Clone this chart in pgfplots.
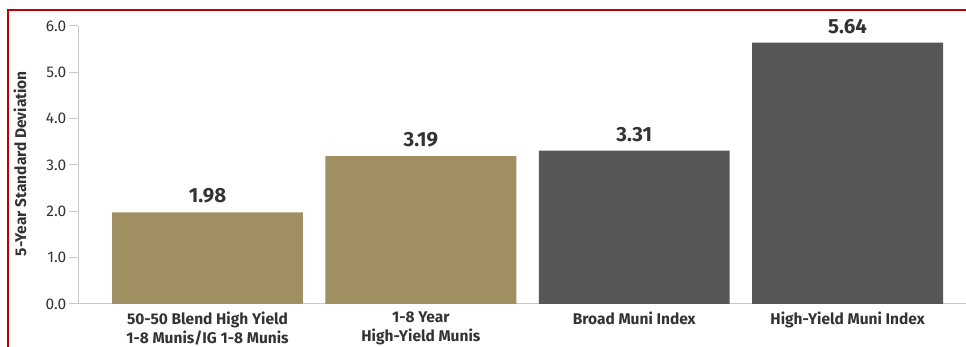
\documentclass[border=0pt]{standalone}
\usepackage{pgfplots}
\pgfplotsset{compat=1.18}
\usepackage{fontspec}
\setmainfont{Fira Sans}
\definecolor{gold}{HTML}{A08F60}
\definecolor{dgray}{HTML}{575757}
\definecolor{txt}{HTML}{333333}
\definecolor{axisgray}{HTML}{C8C8C8}
\definecolor{frame}{HTML}{C00000}
\begin{document}
\begin{tikzpicture}[x=1pt,y=1pt]
\path[use as bounding box] (0,0) rectangle (966,347);
\draw[frame, line width=2pt] (8,0) -- (8,336.5) -- (966,336.5);
\begin{axis}[
  at={(78pt,43pt)}, anchor=south west,
  scale only axis, width=888pt, height=278pt,
  xmin=-0.607, xmax=3.555, ymin=0, ymax=6,
  axis lines*=left,
  axis line style={axisgray, line width=1pt},
  ytick={0,1,2,3,4,5,6},
  yticklabel style={font=\fontsize{15.5}{15.5}\selectfont, text=txt, inner sep=2.5pt, /pgf/number format/fixed, /pgf/number format/fixed zerofill, /pgf/number format/precision=1, /pgf/number format/assume math mode=true},
  ytick style={axisgray, line width=1pt},
  tick align=outside, major tick length=9pt,
  xtick={0,1,2,3},
  xticklabels={{50-50 Blend High Yield\\1-8 Munis/IG 1-8 Munis},{1-8 Year\\High-Yield Munis},{Broad Muni Index},{High-Yield Muni Index}},
  xticklabel style={align=center, font=\bfseries\fontsize{15.5}{19.5}\selectfont, text=txt, anchor=north, yshift=5pt},
  x tick style={draw=none},
  ylabel={5-Year Standard Deviation},
  every axis y label/.style={at={(axis description cs:-0.0653,0.505)}, rotate=90, anchor=center, font=\bfseries\fontsize{15.5}{15.5}\selectfont, text=txt},
  ybar, bar width=0.895, bar shift=0pt,
  nodes near coords,
  every node near coord/.append style={font=\bfseries\fontsize{20.5}{20.5}\selectfont, text=txt, inner sep=0pt, anchor=south, yshift=9pt},
  nodes near coords style={/pgf/number format/fixed, /pgf/number format/fixed zerofill, /pgf/number format/precision=2, /pgf/number format/assume math mode=true},
]
\addplot[fill=gold, draw=none] coordinates {(0,1.98) (1,3.19)};
\addplot[fill=dgray, draw=none] coordinates {(2,3.31) (3,5.64)};
\end{axis}
\end{tikzpicture}
\end{document}
